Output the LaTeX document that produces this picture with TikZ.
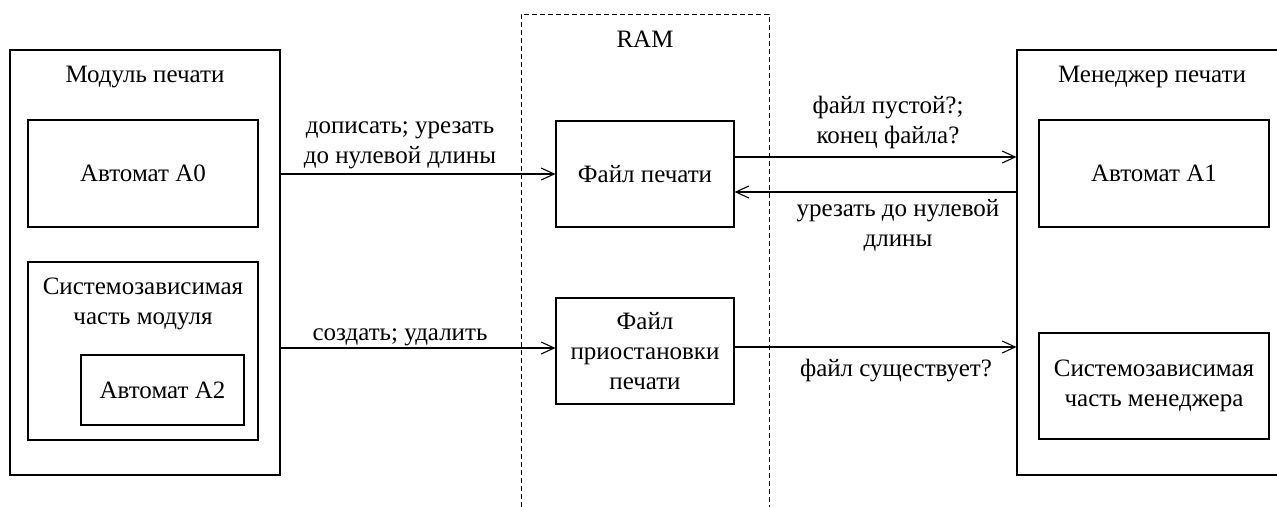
\documentclass[tikz,border=0pt]{standalone}
\usepackage{fontspec}
\setmainfont{Liberation Serif}
\usetikzlibrary{arrows.meta}
\begin{document}
\begin{tikzpicture}[x=1pt,y=-1pt,
  every node/.style={font=\fontsize{25}{30}\selectfont},
  box/.style={draw, line width=1.1pt, rectangle, inner sep=0pt, align=center},
  lbl/.style={anchor=base, align=center, inner sep=0pt},
  arr/.style={line width=1.1pt, -{Straight Barb[length=13pt,width=12pt,line width=1.1pt]}},
  ram/.style={draw, line width=0.9pt, dash pattern=on 5pt off 3pt, rectangle, inner sep=0pt},
]
\useasboundingbox (0,0) rectangle (1277,506);
\clip (0,0) rectangle (1277,506);

% print module
\node[box, minimum width=270pt, minimum height=425pt] (mod) at (145,262.5) {};
\node[lbl] (modlbl) at (145,82) {Модуль печати};
\node[box, minimum width=230pt, minimum height=107pt] (a0) at (143,173.5) {Автомат A0};
\node[box, minimum width=230pt, minimum height=178pt] (sysm) at (143,351) {};
\node[lbl] (sysmlbl) at (143,324) {Системозависимая\\часть модуля};
\node[box, minimum width=163pt, minimum height=70pt] (a2) at (162.5,390) {Автомат A2};

% RAM area
\node[ram, minimum width=248pt, minimum height=520pt] (ram) at (645,274) {};
\node[lbl] (ramlbl) at (645,47) {RAM};
\node[box, minimum width=178pt, minimum height=106pt] (fp) at (645,174) {Файл печати};
\node[box, minimum width=178pt, minimum height=106pt] (fps) at (645,351) {Файл\\приостановки\\печати};

% print manager
\node[box, minimum width=270pt, minimum height=425pt] (mgr) at (1152,262.5) {};
\node[lbl] (mgrlbl) at (1152,82) {Менеджер печати};
\node[box, minimum width=230pt, minimum height=107pt] (a1) at (1154,173.5) {Автомат A1};
\node[box, minimum width=230pt, minimum height=106pt] (sysg) at (1154,386) {Системозависимая\\часть менеджера};

% connectors
\coordinate (fpin) at (fp.west);
\coordinate (fpout) at ([yshift=17pt]fp.east);
\coordinate (fpback) at ([yshift=-18pt]fp.east);
\coordinate (fpsin) at ([yshift=3pt]fps.west);
\coordinate (fpsout) at ([yshift=4pt]fps.east);

\draw[arr] (mod.east |- fpin) -- (fpin);
\draw[arr] (fpout) -- (mgr.west |- fpout);
\draw[arr] (mgr.west |- fpback) -- (fpback);
\draw[arr] (mod.east |- fpsin) -- (fpsin);
\draw[arr] (fpsout) -- (mgr.west |- fpsout);

% connector labels (base = baseline of the last line)
\node[lbl] (l1) at (400,163) {дописать; урезать\\до нулевой длины};
\node[lbl] (l2) at (888,143) {файл пустой?;\\конец файла?};
\node[lbl] (l3) at (898,246) {урезать до нулевой\\длины};
\node[lbl] (l4) at (400,340) {создать; удалить};
\node[lbl] (l5) at (896,376) {файл существует?};
\end{tikzpicture}
\end{document}
